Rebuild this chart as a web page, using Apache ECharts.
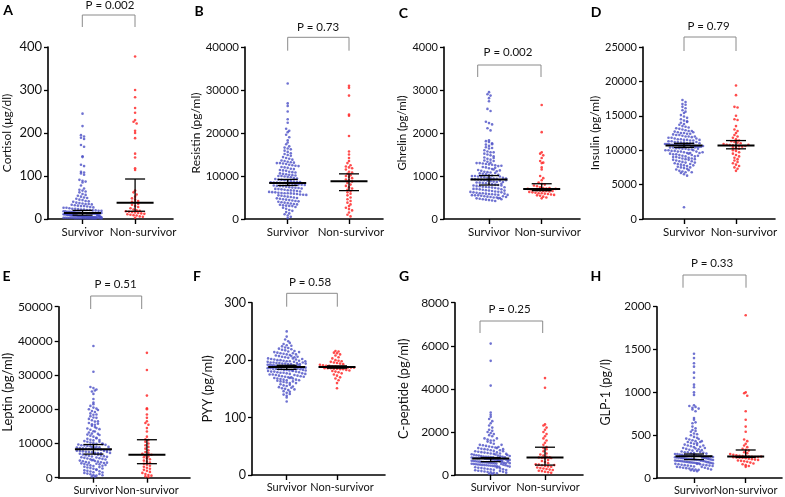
<!DOCTYPE html>
<html><head><meta charset="utf-8">
<script src="https://cdn.jsdelivr.net/npm/echarts@6/dist/echarts.min.js"></script>
<style>html,body{margin:0;padding:0;background:#fff}#c{width:785px;height:497px}</style>
</head><body><div id="c"></div>
<script>
const categories = ['Survivor', 'Non-survivor'];

const cortisolSurv = [245,216,195,192,189,186,172,168,146,144,126,123,110,108,106,103,91,89,87,85,78,71,68,66,64,62,58,56,54,52,50,49,47,45,44,42,41,40,38,37,36,35,35,34,33,32,31,30,30,29,
28,27,26,26,25,24,24,23,22,22,21,21,20,20,19,19,18,18,17,17,17,16,16,15,15,15,14,14,14,13,13,13,12,12,12,12,11,11,11,11,10,10,10,10,9,9,9,9,8,8,
8,8,8,7,7,7,7,7,6,6,6,6,6,6,5,5,5,5,5,5,4,4,4,4,4,4,3,3,3,3,3,3,2,2,2,2,2,2,1,1,1,1,1,1,9,8,7,6,5,4,3,2,1,12,14];
const cortisolNon = [378,300,283,258,247,230,226,222,205,200,188,152,143,118,114,66,62,57,52,48,45,42,40,38,35,33,30,28,25,22,20,19,18,17,16,15,14,13,12,11,10,9,8,6,5,3];

const resistinSurv = [31500,26900,26300,25000,23200,22400,21000,20500,20200,19600,19000,18300,17800,17400,16900,16600,16400,16200,15900,15600,15300,15100,
14900,14700,14400,14200,14000,13800,13600,13500,13300,13200,13100,13000,13000,
12900,12800,12600,12500,12400,12300,12100,12000,11900,11700,11600,11400,11300,11200,11000,10900,10800,10600,10500,10400,10300,10200,10100,10000,10000,
9900,9800,9700,9500,9400,9300,9200,9100,9000,8900,8800,8700,8650,8600,8550,8500,8450,8400,
8350,8300,8250,8200,8100,8000,7950,7900,7800,7700,7650,7600,7500,7400,7300,7250,7200,7100,7000,6950,6900,6800,6700,6650,6600,6500,6400,6300,6250,6200,6100,6050,6000,6000,5950,
5900,5800,5700,5650,5600,5500,5400,5300,5200,5100,5000,4900,4800,4700,4600,4500,4400,4300,4200,4100,4000,3900,3800,3700,3600,3500,3400,3300,3200,3100,3050,3000,
2800,2600,2400,2100,1900,1600,1300,1100,800,500,200];
const resistinNon = [31000,30500,28700,24300,24000,19300,15700,15000,14200,13500,13000,12500,12200,12000,11800,11500,11000,10800,10500,10200,10000,9800,9500,9200,9000,
8700,8400,8000,7700,7400,7100,6800,6500,6200,5900,5500,5000,4600,4200,3800,3400,3000,2600,2300,2000,1500,1000,600];

const ghrelinSurv = [2950,2900,2870,2810,2740,2560,2510,2260,2230,2200,2110,2060,
1830,1810,1790,1760,1730,1700,1670,1640,1600,1570,1550,1520,1500,
1480,1460,1430,1400,1380,1360,1330,1310,1300,1300,1290,1280,1270,1260,1250,1230,1210,1200,
1180,1160,1140,1120,1100,1090,1080,1060,1050,1040,1020,1010,1000,1000,990,980,970,960,950,940,935,930,925,920,
910,900,890,880,870,860,850,845,840,830,820,810,800,790,780,770,760,750,745,740,730,720,710,700,700,
690,680,670,660,650,640,635,630,620,610,600,600,590,580,575,570,560,555,550,550,
540,530,520,510,500,500,490,480,470,460,450,440,430,420,
1150,1110,1070,1030,990,960,940,1130,1190,1240,1350,1420,1550,1650,1740,
890,860,820,780,740,690,660,620,590,560,530,510,480,460,900];
const ghrelinNon = [2650,2020,1550,1520,1480,1420,1350,1310,1300,1200,1150,1000,950,900,850,820,800,780,760,740,720,710,700,
690,680,670,660,650,650,640,630,620,610,600,600,590,580,570,560,550,540,520,500,480,650,700,720];

const insulinSurv = [17300,17000,16700,16600,16300,16100,15800,15600,15400,15100,14900,14700,14500,14300,14200,14000,13800,13700,13500,13400,
13200,13100,13000,12900,12800,12700,12600,12500,12500,12400,12300,12200,12200,12100,12000,12000,11900,11800,11800,11700,
11600,11600,11500,11500,11400,11400,11300,11300,11200,11200,11100,11100,11000,11000,11000,10900,10900,10900,10800,10800,
10800,10800,10700,10700,10700,10700,12800,12400,12000,11700,11500,11200,11000,10900,10800,13300,14100,12600,
10600,10600,10600,10500,10500,10500,10400,10400,10300,10300,10200,10200,10100,10100,10000,10000,9900,9900,9800,9800,
9700,9600,9600,9500,9400,9400,9300,9200,9100,9000,9000,8900,8800,8700,8600,8500,8400,8300,8200,8100,
8000,7900,7800,7700,7600,7500,7400,7300,7200,7000,6900,6800,6700,6500,6300,1700,
10600,10400,10200,10000,9800,9600,9500,9300,9100,8900,8800,8600,8400,8200,8000,7800,7500,7100,6800,9700,9200,8700];
const insulinNon = [19400,18000,16300,16200,15000,14500,14400,13500,13000,12800,12500,12200,12000,11800,11600,11400,11300,11200,11100,11000,10900,10800,10750,10700,
10650,10600,10500,10400,10300,10200,10000,9900,9700,9500,9300,9100,8900,8700,8500,8300,8100,7900,7700,7500,7300,7000,10600,10800];

const leptinSurv = [38500,31000,26500,26200,25800,25200,24500,23000,22000,21500,21000,20500,20000,19500,19200,18800,18400,18000,17600,17200,
16800,16400,16000,15600,15200,14800,14400,14000,13600,13200,12900,12600,12300,12000,11700,11400,11100,10900,10700,10500,
10300,10100,9900,9700,9500,9400,9300,9200,9100,9000,8900,8800,8700,8600,8500,8400,
19800,18500,17500,16500,15500,14500,13500,12500,11500,10500,9800,9600,9000,8800,8600,20200,15800,14200,12800,11000,10000,25500,
8300,8200,8100,8000,7900,7800,7700,7600,7500,7400,7300,7200,7100,7000,6800,6600,6400,6200,6000,5800,5600,5400,5200,5000,
4800,4600,4400,4200,4000,3800,3600,3400,3200,3000,2800,2600,2400,2200,2000,1800,1600,1400,1200,1000,800,600,400,300,
8150,7850,7550,7250,6900,6700,6500,6300,6100,5900,5700,5500,5300,5100,4900,4700,4500,4300,4100,3900,3500,3100,2700,2300,1900,1500,1100,700,4400,3700];
const leptinNon = [36500,31500,24000,20300,20000,18500,17500,16500,16000,15500,14500,13500,12000,11200,11000,10500,10000,9500,9000,8500,8000,7500,7200,7000,
6500,6200,6000,5700,5400,5000,4700,4400,4100,3800,3500,3200,2900,2600,2300,2000,1700,1400,1100,800,600,400,200,6700];

const pyySurv = [250,241,236,233,228,226,224,222,221,220,218,217,215,214,213,212,211,210,209,208,207,206,205,204,203,202,201,200,200,199,
198,198,197,196,196,195,195,194,194,193,193,192,192,191,191,190,190,190,189,189,189,188,188,188,
225,219,216,212,210,207,205,203,201,199,197,195,193,191,189,230,214,206,202,198,196,194,192,190,
187,187,186,186,185,185,184,184,183,183,182,182,181,180,180,179,178,178,177,176,175,175,174,173,172,171,170,170,169,168,
167,166,165,164,163,162,161,160,158,156,155,153,151,150,148,146,143,140,138,135,128,
187,186,185,184,183,182,181,180,179,177,176,174,173,172,171,169,168,166,165,163,160,157,154,152,149,145,141];
const pyyNon = [216,215,213,212,210,208,205,203,200,199,198,197,196,195,194,193,192,191,190,190,189,189,188,188,
188,187,187,187,186,186,186,185,185,184,184,183,182,181,180,179,177,175,173,170,168,165,160,151];

const cpeptideSurv = [6100,5300,4150,2900,2800,2700,2600,2500,2400,2300,2200,2100,2050,2000,1950,1900,1850,1800,1700,1650,
1600,1550,1500,1450,1400,1380,1350,1320,1300,1280,1250,1220,1200,1180,1150,1120,1100,1080,1060,1040,
1020,1000,980,960,940,920,900,880,860,850,840,830,820,810,800,790,780,775,
1250,1150,1050,1000,950,900,870,850,820,800,790,1100,1200,1300,1600,1400,980,930,880,1700,
760,750,740,730,720,710,700,690,680,670,660,650,640,630,620,610,600,590,580,570,560,550,540,530,520,510,500,490,480,470,
460,450,440,430,420,410,400,380,360,340,320,300,280,260,240,220,200,180,160,140,120,100,80,60,50,
750,720,690,660,630,600,570,540,510,480,450,420,390,350,310,270,230,190,150,110,700,620,550];
const cpeptideNon = [4500,4050,2350,2300,2200,2100,2000,1900,1800,1700,1600,1500,1400,1300,1250,1200,1100,1000,950,900,850,820,810,800,
780,700,650,600,550,500,480,450,420,400,380,350,320,300,280,250,230,200,180,150,130,100,790,460];

const glp1Surv = [1450,1400,1340,1300,1230,1170,1090,1060,1000,970,850,840,820,800,780,700,680,640,600,560,540,520,500,480,460,450,440,430,420,410,
400,390,380,370,360,350,340,330,320,310,300,300,290,290,280,280,275,270,265,262,260,258,
830,810,650,580,550,510,470,455,430,405,385,365,345,335,325,315,305,295,285,275,268,262,258,420,380,350,
250,248,245,242,240,238,235,232,230,228,225,222,220,218,215,212,210,208,205,202,200,198,195,192,190,188,185,182,180,178,
175,172,170,165,160,155,150,145,140,135,130,125,120,115,110,105,100,95,90,85,80,
250,245,240,235,230,225,220,215,210,205,200,195,190,185,180,175,170,165,160,155,150,145,140,130,120,110,100];
const glp1Non = [1900,1000,990,960,780,680,600,540,450,430,400,380,360,340,330,320,300,290,280,270,265,260,255,252,
250,248,246,244,242,240,238,235,230,225,220,215,210,205,200,195,190,180,170,160,150,140,130,250];

// median with lower / upper 95% CI, [survivor, non-survivor]
const cortisolStats = [[14, 9, 20], [38, 18, 93]];
const resistinStats = [[8400, 7800, 9200], [8800, 6600, 10500]];
const ghrelinStats = [[920, 790, 1010], [700, 660, 820]];
const insulinStats = [[10700, 10400, 11000], [10700, 10200, 11400]];
const leptinStats = [[8300, 6900, 9700], [6700, 4100, 11100]];
const pyyStats = [[188, 184, 191], [188, 186, 190]];
const cpeptideStats = [[770, 620, 810], [810, 460, 1290]];
const glp1Stats = [[255, 215, 280], [250, 240, 327]];

const panelLetters = ['A', 'B', 'C', 'D', 'E', 'F', 'G', 'H'];
const yNames = ['Cortisol (μg/dl)', 'Resistin (pg/ml)', 'Ghrelin (pg/ml)', 'Insulin (pg/ml)',
  'Leptin (pg/ml)', 'PYY (pg/ml)', 'C-peptide (pg/ml)', 'GLP-1 (pg/l)'];
const pLabels = ['P = 0.002', 'P = 0.73', 'P = 0.002', 'P = 0.79', 'P = 0.51', 'P = 0.58', 'P = 0.25', 'P = 0.33'];
const yMaxes = [400, 40000, 4000, 25000, 50000, 300, 8000, 2000];
const yIntervals = [100, 10000, 1000, 5000, 10000, 100, 2000, 500];

const survData = [cortisolSurv, resistinSurv, ghrelinSurv, insulinSurv, leptinSurv, pyySurv, cpeptideSurv, glp1Surv];
const nonData = [cortisolNon, resistinNon, ghrelinNon, insulinNon, leptinNon, pyyNon, cpeptideNon, glp1Non];
const statsData = [cortisolStats, resistinStats, ghrelinStats, insulinStats, leptinStats, pyyStats, cpeptideStats, glp1Stats];

// layout (pixels)
const L = [
  {ax:47.7, top:47, y0:219, xEnd:173, s1:82.3, s2:135, tickFs:13, catFs:11.5, nameFs:12, nameGap:35, shift:8,
   br:[82.3,135,15,27], p:[110,5], let:[8,10.5]},
  {ax:245, top:47, y0:219, xEnd:383, s1:287.7, s2:349, tickFs:11.5, catFs:11.5, nameFs:12, nameGap:40, shift:2,
   br:[287.7,349,37.3,50.7], p:[318,27], let:[199,11]},
  {ax:444, top:47, y0:219, xEnd:580, s1:489, s2:541.7, tickFs:11, catFs:11.5, nameFs:11.5, nameGap:35, shift:6,
   br:[477.7,541,65,77], p:[508,52], let:[403.5,13]},
  {ax:643, top:47, y0:219, xEnd:775, s1:684, s2:736, tickFs:11, catFs:11.5, nameFs:12, nameGap:39, shift:8,
   br:[684,736,37,51], p:[708.5,26.5], let:[596,12.5]},
  {ax:55, top:306.7, y0:477.7, xEnd:190, s1:90.7, s2:145.7, tickFs:12, catFs:11, nameFs:13, nameGap:42, shift:0,
   br:[90.7,141.7,296,309], p:[115.5,284.5], let:[6.5,276]},
  {ax:252, top:302.7, y0:475, xEnd:385, s1:286.7, s2:337, tickFs:12.5, catFs:11, nameFs:13, nameGap:38, shift:5,
   br:[286.7,337.3,293.3,306.7], p:[310,282.5], let:[197,276]},
  {ax:455, top:302.7, y0:475, xEnd:583, s1:490.7, s2:545, tickFs:12, catFs:11, nameFs:13, nameGap:45, shift:3,
   br:[480,542.7,321,333], p:[509.5,309], let:[404,276]},
  {ax:657, top:306.7, y0:478, xEnd:782, s1:694, s2:745.7, tickFs:11.5, catFs:11, nameFs:12.5, nameGap:45, shift:0,
   br:[683,746,275,287.7], p:[712,263], let:[596,276]}
];

const FONT = 'Lato';
const ROW = 3.2, DOT = 3.1, MAXHALF = 19;

function swarm(values, group, lay, yMax) {
  const H = lay.y0 - lay.top;
  const pxPerX = lay.s2 - lay.s1;
  const rows = new Map();
  values.forEach(v => {
    const r = Math.round(v / yMax * H / ROW);
    if (!rows.has(r)) rows.set(r, []);
    rows.get(r).push(v);
  });
  const out = [];
  rows.forEach(arr => {
    const n = arr.length;
    let d = DOT;
    if (n > 1) d = Math.min(DOT, 2 * MAXHALF / (n - 1));
    arr.forEach((v, k) => out.push([group + (k - (n - 1) / 2) * d / pxPerX, v]));
  });
  return out;
}

const grids = [], xAxes = [], yAxes = [], series = [], graphics = [];
L.forEach((lay, i) => {
  const sp = lay.s2 - lay.s1;
  grids.push({left: lay.ax, top: lay.top, width: lay.xEnd - lay.ax, height: lay.y0 - lay.top});
  xAxes.push({
    gridIndex: i, type: 'value',
    min: 1 - (lay.s1 - lay.ax) / sp, max: 2 + (lay.xEnd - lay.s2) / sp,
    axisLine: {show: true, onZero: false, lineStyle: {color: '#000', width: 1.6}},
    axisTick: {show: true, customValues: [1, 2], length: 5, lineStyle: {color: '#000', width: 1.4}},
    axisLabel: {
      show: true, customValues: [1, 2], margin: 7,
      formatter: v => (v === 1 ? '{s|' + categories[0] + '}' : '{n|' + categories[1] + '}'),
      rich: {
        s: {fontSize: lay.catFs, fontFamily: FONT, color: '#111'},
        n: {fontSize: lay.catFs, fontFamily: FONT, color: '#111', padding: [0, 0, 0, 2 * lay.shift]}
      }
    },
    splitLine: {show: false}
  });
  yAxes.push({
    gridIndex: i, type: 'value', min: 0, max: yMaxes[i], interval: yIntervals[i],
    axisLine: {show: true, lineStyle: {color: '#000', width: 1.6}},
    axisTick: {show: true, length: 4, lineStyle: {color: '#000', width: 1.3}},
    axisLabel: {fontSize: lay.tickFs, fontFamily: FONT, color: '#111', margin: 6, formatter: v => String(v)},
    splitLine: {show: false},
    name: yNames[i], nameLocation: 'middle', nameGap: lay.nameGap,
    nameTextStyle: {fontSize: lay.nameFs, fontFamily: FONT, color: '#111'}
  });
  series.push({
    type: 'scatter', xAxisIndex: i, yAxisIndex: i, symbol: 'circle', symbolSize: 2.6,
    itemStyle: {color: '#4b4fc6'}, data: swarm(survData[i], 1, lay, yMaxes[i]), silent: true, z: 2
  });
  series.push({
    type: 'scatter', xAxisIndex: i, yAxisIndex: i, symbol: 'circle', symbolSize: 2.6,
    itemStyle: {color: '#ff1f1f'}, data: swarm(nonData[i], 2, lay, yMaxes[i]), silent: true, z: 2
  });
  series.push({
    type: 'custom', xAxisIndex: i, yAxisIndex: i, silent: true, z: 5,
    data: statsData[i].map((s, g) => [g + 1, s[0], s[1], s[2]]),
    renderItem: (params, api) => {
      const x = api.value(0);
      const m = api.coord([x, api.value(1)]);
      const lo = api.coord([x, api.value(2)]);
      const hi = api.coord([x, api.value(3)]);
      const st = {stroke: '#000', lineWidth: 1.3};
      return {type: 'group', children: [
        {type: 'line', shape: {x1: m[0] - 18.5, y1: m[1], x2: m[0] + 18.5, y2: m[1]}, style: {stroke: '#000', lineWidth: 2}},
        {type: 'line', shape: {x1: lo[0], y1: lo[1], x2: hi[0], y2: hi[1]}, style: st},
        {type: 'line', shape: {x1: lo[0] - 10, y1: lo[1], x2: lo[0] + 10, y2: lo[1]}, style: st},
        {type: 'line', shape: {x1: hi[0] - 10, y1: hi[1], x2: hi[0] + 10, y2: hi[1]}, style: st}
      ]};
    }
  });
  graphics.push({
    type: 'polyline', silent: true,
    shape: {points: [[lay.br[0], lay.br[3]], [lay.br[0], lay.br[2]], [lay.br[1], lay.br[2]], [lay.br[1], lay.br[3]]]},
    style: {stroke: '#8a8a8a', lineWidth: 1, fill: null}
  });
  graphics.push({
    type: 'text', silent: true, x: lay.p[0], y: lay.p[1],
    style: {text: pLabels[i], font: '11.5px ' + FONT, fill: '#111', align: 'center', verticalAlign: 'middle'}
  });
  graphics.push({
    type: 'text', silent: true, x: lay.let[0], y: lay.let[1],
    style: {text: panelLetters[i], font: 'bold 14px ' + FONT, fill: '#000', align: 'center', verticalAlign: 'middle'}
  });
});

const chart = echarts.init(document.getElementById('c'), null, {renderer: 'canvas'});
chart.setOption({
  animation: false,
  backgroundColor: '#fff',
  grid: grids, xAxis: xAxes, yAxis: yAxes, series: series, graphic: graphics
});
</script></body></html>
